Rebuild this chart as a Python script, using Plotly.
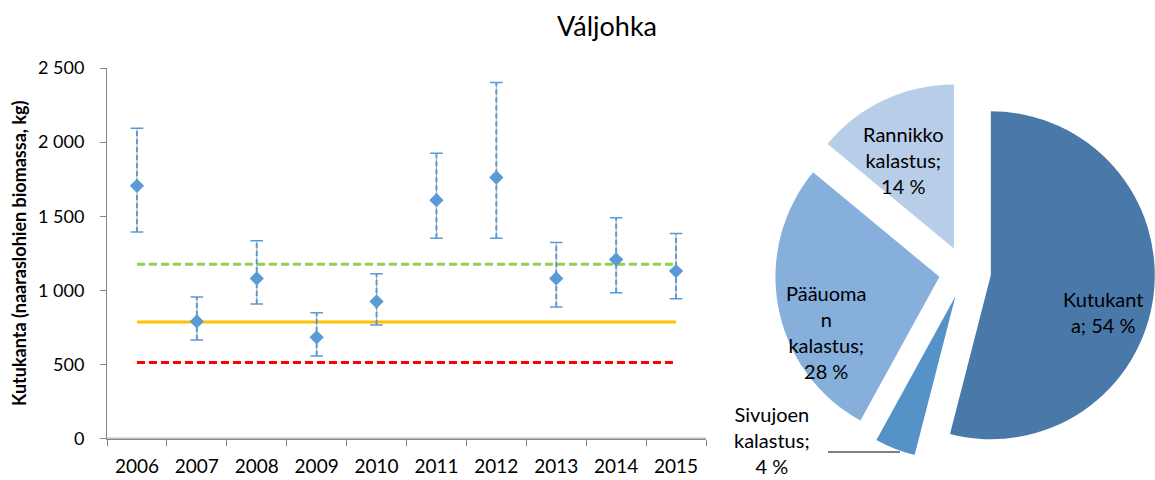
import plotly.graph_objects as go

# Spawning stock estimates with uncertainty limits (kg of female salmon biomass)
years = ["2006", "2007", "2008", "2009", "2010", "2011", "2012", "2013", "2014", "2015"]
stock = [1705, 790, 1080, 683, 925, 1608, 1761, 1080, 1208, 1130]
stock_low = [1393, 665, 907, 557, 766, 1352, 1352, 887, 984, 943]
stock_high = [2093, 955, 1334, 849, 1112, 1925, 2403, 1323, 1489, 1383]

# Reference levels
target_level = 1175
mid_level = 786
limit_level = 512

y_ticks = [0, 500, 1000, 1500, 2000, 2500]
y_tick_text = ["0", "500", "1 000", "1 500", "2 000", "2 500"]

# Share of the stock by fate (%)
pie_labels = ["Kutukanta", "Sivujoen kalastus", "Pääuoman kalastus", "Rannikko kalastus"]
pie_values = [54, 4, 28, 14]
pie_text_forms = ["Kutukant<br>a; {} %", "Sivujoen<br>kalastus;<br>{} %",
                  "Pääuoma<br>n<br>kalastus;<br>{} %", "Rannikko<br>kalastus;<br>{} %"]

W, H = 1155, 480
FONT = "Lato, Carlito, sans-serif"
BLUE = "#5B9BD5"
AXIS = "#868686"

fig = go.Figure()

# Horizontal reference levels spanning the years
for level, color, dash in [(target_level, "#92D050", "8px,4px"),
                           (mid_level, "#FFC000", "solid"),
                           (limit_level, "#FF0000", "8px,4px")]:
    fig.add_trace(go.Scatter(
        x=[years[0], years[-1]], y=[level, level], mode="lines",
        line=dict(color=color, width=3, dash=dash),
        hoverinfo="skip", showlegend=False))

# Uncertainty ranges as dashed vertical segments
seg_x, seg_y = [], []
for yr, lo, hi in zip(years, stock_low, stock_high):
    seg_x += [yr, yr, None]
    seg_y += [lo, hi, None]
fig.add_trace(go.Scatter(x=seg_x, y=seg_y, mode="lines",
                         line=dict(color="#A6A6A6", width=1),
                         hoverinfo="skip", showlegend=False))
fig.add_trace(go.Scatter(x=seg_x, y=seg_y, mode="lines",
                         line=dict(color=BLUE, width=2, dash="5px,3px"),
                         hoverinfo="skip", showlegend=False))
# End caps
fig.add_trace(go.Scatter(
    x=years + years, y=stock_low + stock_high, mode="markers",
    marker=dict(symbol="line-ew", size=9, line=dict(color=BLUE, width=1.5)),
    hoverinfo="skip", showlegend=False))

# Point estimates
fig.add_trace(go.Scatter(
    x=years, y=stock, mode="markers",
    marker=dict(symbol="diamond", size=11, color=BLUE, line=dict(width=0)),
    showlegend=False))

# Pie of stock shares, every slice pulled out
fig.add_trace(go.Pie(
    labels=pie_labels, values=pie_values, sort=False, direction="clockwise",
    rotation=0, pull=0.1585, textinfo="none", hoverinfo="label+percent",
    marker=dict(colors=["#4879A9", "#5592C8", "#86AFDC", "#B8CEE8"], line=dict(width=0)),
    domain=dict(x=[775 / W, 1.0], y=[18 / H, 398 / H]),
    automargin=False, showlegend=False))

# Slice labels
label_pos = [(1103, 312), (772, 440), (826, 332), (903, 160)]
annotations = []
for form, v, (px, py) in zip(pie_text_forms, pie_values, label_pos):
    annotations.append(dict(
        text=form.format(v), x=px / W, y=1 - py / H, xref="paper", yref="paper",
        xanchor="center", yanchor="middle", showarrow=False,
        font=dict(family=FONT, size=20, color="#000000")))

fig.update_layout(
    width=W, height=H,
    margin=dict(l=0, r=0, t=0, b=0, autoexpand=False),
    paper_bgcolor="white", plot_bgcolor="white",
    font=dict(family=FONT, color="#000000"),
    title=dict(text="Váljohka", x=607 / W, xanchor="center",
               y=1 - 27 / H, yanchor="middle",
               font=dict(family=FONT, size=27, color="#000000")),
    xaxis=dict(type="category", categoryorder="array", categoryarray=years,
               range=[-0.5, 9.5], domain=[107 / W, 706 / W], automargin=False,
               showgrid=False, zeroline=False, showline=True,
               linecolor=AXIS, linewidth=1, ticks="outside", ticklen=6,
               tickcolor=AXIS, tickson="boundaries", ticklabelstandoff=11,
               tickfont=dict(family=FONT, size=19, color="#000000")),
    yaxis=dict(range=[0, 2500], domain=[41.5 / H, 412 / H], automargin=False,
               tickvals=y_ticks, ticktext=y_tick_text,
               showgrid=False, zeroline=False,
               showline=True, linecolor=AXIS, linewidth=1, ticks="outside", ticklen=6,
               tickcolor=AXIS, ticklabelstandoff=12,
               tickfont=dict(family=FONT, size=18, color="#000000"),
               title=dict(text="<b>Kutukanta (naaraslohien biomassa, kg)</b>",
                          standoff=6,
                          font=dict(family=FONT, size=18, color="#000000"))),
    annotations=annotations,
    shapes=[
        # horizontal axis line along the value zero, across the full x domain
        dict(type="line", xref="x domain", yref="y", x0=0, x1=1, y0=0, y1=0,
             layer="above", line=dict(color="#7F7F7F", width=1.3)),
        # leader line for the smallest slice label
        dict(type="line", xref="paper", yref="paper",
             x0=828 / W, x1=900 / W, y0=1 - 452 / H, y1=1 - 452 / H,
             line=dict(color="#000000", width=1)),
    ],
)

fig.write_html("out.html")
